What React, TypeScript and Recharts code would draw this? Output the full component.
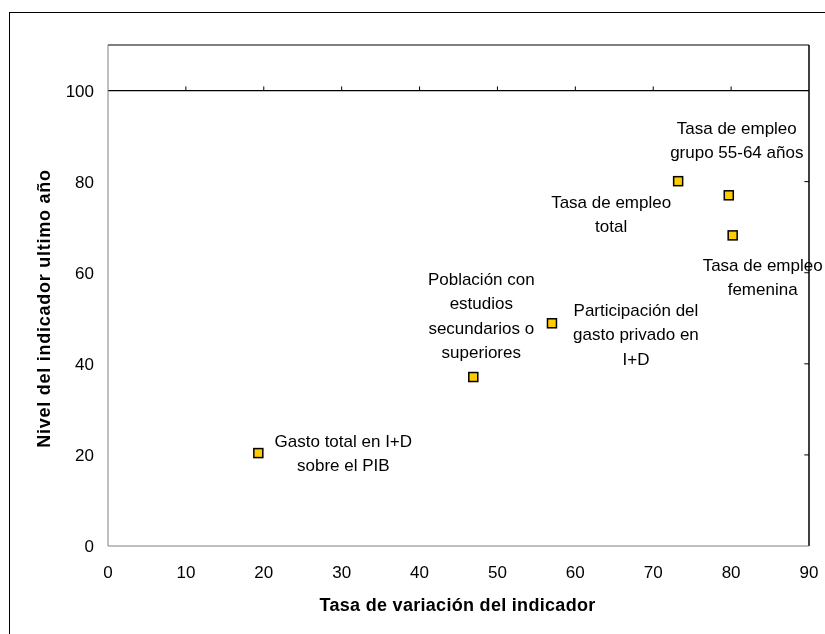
import { ScatterChart, Scatter, XAxis, YAxis, ReferenceLine, Label } from "recharts"

const indicadores = [
  ["Gasto total en I+D", "sobre el PIB"],
  ["Población con", "estudios", "secundarios o", "superiores"],
  ["Participación del", "gasto privado en", "I+D"],
  ["Tasa de empleo", "total"],
  ["Tasa de empleo", "grupo 55-64 años"],
  ["Tasa de empleo", "femenina"],
]
const tasaVariacion = [19.3, 46.9, 57.0, 73.2, 79.7, 80.2]
const nivelUltimoAno = [20.4, 37.1, 48.9, 80.1, 77.0, 68.2]

const xTicks = [0, 10, 20, 30, 40, 50, 60, 70, 80, 90]
const yTicks = [0, 20, 40, 60, 80, 100]

// label placement relative to each marker (px): dx of text centre, dy of first line
const labelOffsets = [
  [85, -12],
  [8, -98],
  [84, -13],
  [-67, 21],
  [8, -67],
  [30, 30],
]

const data = tasaVariacion.map((x, i) => ({ x, y: nivelUltimoAno[i], i }))

const FONT = "'Liberation Sans', Arial, sans-serif"
const LINE_H = 24.5

function Marker(props: any) {
  const { cx, cy, payload } = props
  const [dx, dy] = labelOffsets[payload.i]
  const lines = indicadores[payload.i]
  return (
    <g>
      <rect x={cx - 4.5} y={cy - 4.5} width={9} height={9} fill="#FFCC00" stroke="#000" strokeWidth={1.5} />
      <text textAnchor="middle" fontFamily={FONT} fontSize={17} fill="#000">
        {lines.map((l, k) => (
          <tspan key={k} x={cx + dx} y={cy + dy + k * LINE_H} dominantBaseline="central">
            {l}
          </tspan>
        ))}
      </text>
    </g>
  )
}

export default function App() {
  return (
    <div style={{ position: "fixed", left: 8, top: 8, width: 817, height: 626, fontFamily: FONT, overflow: "hidden" }}>
      <div
        style={{
          position: "absolute",
          left: 1,
          top: 4,
          right: 0,
          bottom: 0,
          borderLeft: "1px solid #000",
          borderTop: "1px solid #000",
        }}
      />
      <div style={{ position: "absolute", left: 0, top: 0 }}>
        <ScatterChart width={817} height={626} margin={{ top: 37, right: 16, bottom: 0, left: 0 }}>
          <XAxis
            type="number"
            dataKey="x"
            domain={[0, 90]}
            ticks={xTicks}
            tickLine={false}
            tickSize={0}
            tickMargin={20}
            height={88}
            axisLine={{ stroke: "#808080" }}
            tick={{ fill: "#000", fontSize: 17, fontFamily: FONT }}
          >
            <Label
              content={() => (
                <text
                  x={449.5}
                  y={597}
                  textAnchor="middle"
                  dominantBaseline="central"
                  fontFamily={FONT}
                  fontWeight="bold"
                  fontSize={18}
                  letterSpacing={0.3}
                  fill="#000"
                >
                  Tasa de variación del indicador
                </text>
              )}
            />
          </XAxis>
          <YAxis
            type="number"
            dataKey="y"
            domain={[0, 110]}
            ticks={yTicks}
            tickLine={false}
            tickSize={0}
            tickMargin={14}
            width={100}
            axisLine={{ stroke: "#808080" }}
            tick={{ fill: "#000", fontSize: 17, fontFamily: FONT }}
          >
            <Label
              content={() => (
                <text
                  x={36}
                  y={300.5}
                  transform="rotate(-90 36 300.5)"
                  textAnchor="middle"
                  dominantBaseline="central"
                  fontFamily={FONT}
                  fontWeight="bold"
                  fontSize={18}
                  letterSpacing={0.75}
                  fill="#000"
                >
                  Nivel del indicador ultimo año
                </text>
              )}
            />
          </YAxis>
          <ReferenceLine y={110} stroke="#000" strokeWidth={1.2} />
          <ReferenceLine x={90} stroke="#000" strokeWidth={1.5} />
          <ReferenceLine y={100} stroke="#000" strokeWidth={1.2} />
          {xTicks.slice(1, -1).map((t) => (
            <ReferenceLine
              key={"xt" + t}
              segment={[
                { x: t, y: 100 },
                { x: t, y: 100.9 },
              ]}
              stroke="#000"
            />
          ))}
          {yTicks.slice(1).map((t) => (
            <ReferenceLine
              key={"yt" + t}
              segment={[
                { x: 89.4, y: t },
                { x: 90, y: t },
              ]}
              stroke="#000"
            />
          ))}
          <Scatter data={data} shape={Marker} isAnimationActive={false} />
        </ScatterChart>
      </div>
    </div>
  )
}
